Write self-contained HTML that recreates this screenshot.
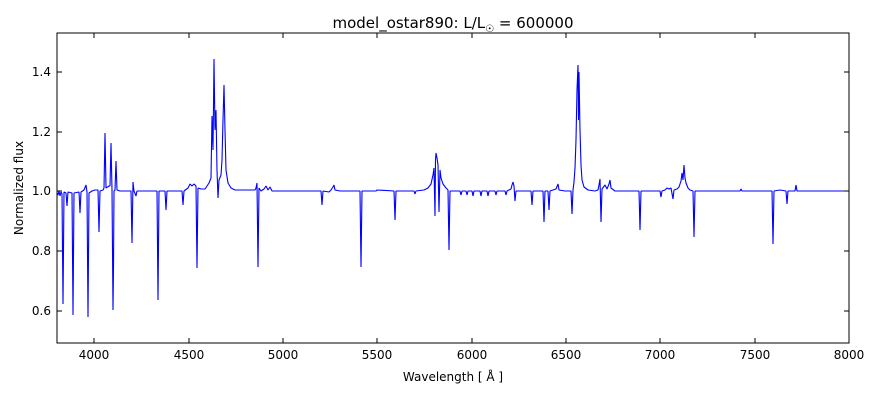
<!DOCTYPE html>
<html><head><style>body{margin:0;background:#fff}svg{display:block}text{font-family:"DejaVu Sans","Liberation Sans",sans-serif}</style></head><body>
<svg width="880" height="400" xmlns="http://www.w3.org/2000/svg">
<rect width="880" height="400" fill="#fff"/>
<text x="453" y="28" font-size="15" text-anchor="middle">model_ostar890: L/L<tspan font-size="10" dy="4">☉</tspan><tspan dy="-4"> = 600000</tspan></text>
<clipPath id="c"><rect x="57" y="33" width="792" height="310"/></clipPath>
<g clip-path="url(#c)">
<path fill="none" stroke="#0000ff" stroke-width="1.1" stroke-linejoin="bevel" d="M57,193 L58,195 L59,191 L60,196 L61,192 L62,194 L63,304 L64,192 L66,193 L67,206 L68,192 L72,193 L73,315 L74,193 L79,192 L80,213 L81,192 L84,190 L86,185 L87,192 L88,317 L89,193 L92,191 L95,190 L98,190 L99,232 L100,191 L103,190 L104,188 L105,133 L106,188 L109,186 L110,186 L111,143 L112,190 L113,310 L113.5,267 L114,191 L115,190 L116,161 L117,190 L120,191 L131,191 L132,243 L133,182 L134,191 L136,196 L137,191 L157,191 L158,300 L159,191 L165,191 L166,210 L167,191 L182,191 L183,205 L184,191 L188,188 L190,184 L192,186 L194,184 L196,186 L197,268 L198,188 L201,189 L205,189 L207,186 L209,183 L211,178 L212,116 L213,150 L214,59 L215,130 L216,110 L217,170 L218,198 L219,180 L221,175 L222,160 L223,120 L224,85 L225,130 L226,170 L228,183 L231,188 L235,190 L250,190 L255,190 L256,188 L257,183 L258,267 L259,188 L261,191 L264,189 L266,186 L268,190 L270,187 L272,191 L290,191 L321,191 L322,205 L323,191 L329,192 L331,190 L333,187 L334,185 L335,190 L340,191 L360,191 L361,267 L362,191 L376,191 L377,190 L394,191 L395,220 L396,191 L414,191 L415,194 L416,191 L424,190 L428,188 L431,184 L433,175 L434,168 L435,216 L435.5,160 L436,153 L437,158 L438,165 L439,212 L440,170 L441,178 L443,184 L446,188 L448,190 L449,250 L450,191 L460,191 L461,195 L462,191 L466,191 L467,195 L468,191 L472,191 L473,196 L474,191 L480,191 L481,196 L482,191 L487,191 L488,196 L489,191 L495,191 L496,195 L497,191 L505,191 L506,195 L507,191 L511,189 L512,185 L513,182 L514,186 L515,201 L516,191 L525,191 L531,191 L532,205 L533,191 L543,191 L544,222 L545,191 L548,191 L549,210 L550,191 L556,189 L558,184 L559,190 L565,191 L571,191 L572,214 L573,190 L574,182 L575,168 L576,140 L577,90 L578,65 L578.5,120 L579,72 L580,130 L581,165 L582,180 L584,187 L588,190 L595,191 L598,190 L599,185 L600,179 L601,222 L602,189 L605,185 L607,189 L609,184 L610,180 L611,188 L615,191 L639,191 L640,230 L641,191 L660,191 L661,197 L662,191 L665,190 L667,188 L669,189 L671,188 L673,199 L674,190 L677,189 L679,187 L681,181 L682,173 L683,180 L684,165 L685,178 L686,183 L688,188 L690,190 L693,191 L694,237 L695,191 L715,191 L740,191 L741,189 L742,191 L772,191 L773,244 L774,191 L780,190 L786,191 L787,204 L788,191 L795,191 L796,185 L797,191 L849,191"/>
</g>
<rect x="57" y="33" width="792" height="310" fill="none" stroke="#000" stroke-width="1"/>
<g stroke="#000" stroke-width="1">
<path d="M94,343v-5M94,33v5M283,343v-5M283,33v5M472,343v-5M472,33v5M660,343v-5M660,33v5M849,343v-5M849,33v5M189,343v-5M189,33v5M377,343v-5M377,33v5M566,343v-5M566,33v5M755,343v-5M755,33v5"/>
<path d="M57,72h5M849,72h-5M57,132h5M849,132h-5M57,191h5M849,191h-5M57,251h5M849,251h-5M57,311h5M849,311h-5"/>
</g>
<g font-size="12" text-anchor="middle">
<text x="94" y="359">4000</text><text x="189" y="359">4500</text><text x="283" y="359">5000</text><text x="377" y="359">5500</text><text x="472" y="359">6000</text><text x="566" y="359">6500</text><text x="660" y="359">7000</text><text x="755" y="359">7500</text><text x="849" y="359">8000</text>
</g>
<g font-size="12" text-anchor="end">
<text x="51" y="76">1.4</text><text x="51" y="136">1.2</text><text x="51" y="195">1.0</text><text x="51" y="255">0.8</text><text x="51" y="315">0.6</text>
</g>
<text x="453" y="381" font-size="12" text-anchor="middle">Wavelength [ Å ]</text>
<text transform="translate(23,188) rotate(-90)" font-size="12" text-anchor="middle">Normalized flux</text>
</svg>
</body></html>
